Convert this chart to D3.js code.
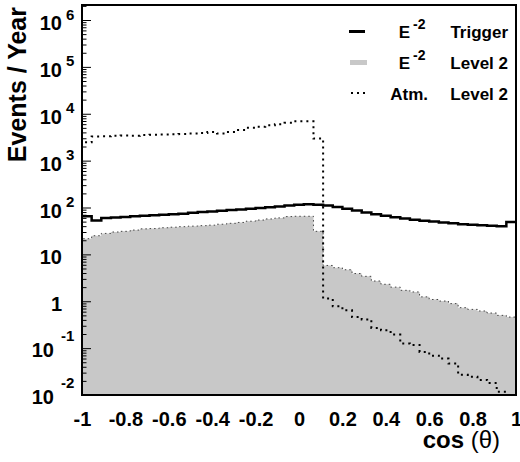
<!DOCTYPE html>
<html>
<head>
<meta charset="utf-8">
<script src="https://cdn.jsdelivr.net/npm/d3@7"></script>
<style>
  body { margin: 0; background: #fff; }
  svg { font-family: "Liberation Sans", Arial, Helvetica, sans-serif; font-weight: bold; }
</style>
</head>
<body>
<svg id="chart" width="520" height="462"></svg>
<script>
// 45 bins in cos(theta) from -1 to 1
var nBins = 45;

var triggerE2 = [65, 53, 60, 61, 63, 65, 67, 68, 70, 72,
                 74, 77, 80, 82, 85, 88, 91, 94, 97, 101,
                 105, 110, 114, 117, 115, 110, 102, 94, 86, 78,
                 72, 67, 62, 58, 55, 52, 50, 48, 46, 44,
                 43, 42, 41, 40, 49];

var level2E2 = [21.6, 25, 28, 30, 31, 33, 35, 35.5, 37, 38,
                39, 40, 41, 42, 44, 46, 48, 51, 54, 57,
                60, 64, 65, 65, 31, 5.8, 5.2, 4.7, 3.9, 3.4,
                2.7, 2.3, 2.0, 1.71, 1.58, 1.24, 1.09, 1.01, 0.89, 0.73,
                0.67, 0.62, 0.56, 0.50, 0.46];

var level2Atm = [2460, 3290, 3300, 3400, 3450, 3400, 3500, 3550, 3600, 3650,
                 3700, 3800, 3900, 4100, 3800, 4100, 4500, 5000, 5300, 5700,
                 6000, 6400, 6900, 6900, 2950, 1.14, 0.78, 0.64, 0.46, 0.41,
                 0.27, 0.24, 0.195, 0.126, 0.116, 0.083, 0.069, 0.060, 0.047, 0.027,
                 0.0245, 0.021, 0.018, 0.0117, 0.01];

var xTicks = [-1, -0.8, -0.6, -0.4, -0.2, 0, 0.2, 0.4, 0.6, 0.8, 1];
var yExps = [-2, -1, 0, 1, 2, 3, 4, 5, 6];

var svg = d3.select('#chart');

var padL = 82, padR = 516, padT = 5, padB = 395;

var x = d3.scaleLinear().domain([-1, 1]).range([padL, padR]);
var y = d3.scaleLog().domain([0.01, Math.pow(10, 6.32)]).range([padB, padT]).clamp(true);

var binW = 2 / nBins;
function steps(vals) {
    var pts = [];
    vals.forEach(function (v, i) {
        var a = -1 + i * binW, b = a + binW;
        pts.push([a, v]);
        pts.push([b, v]);
    });
    return pts;
}

var line = d3.line().x(d => x(d[0])).y(d => y(d[1]));

// grey filled Level 2 E^-2
var area = d3.area().x(d => x(d[0])).y0(padB).y1(d => y(d[1]));
svg.append('path')
   .attr('d', area(steps(level2E2)))
   .attr('fill', '#c8c8c8');

var greyPts = steps(level2E2);
greyPts.unshift([-1, 0.01]);
greyPts.push([1, 0.01]);
svg.append('path')
   .attr('d', line(greyPts))
   .attr('fill', 'none')
   .attr('stroke', '#444')
   .attr('stroke-width', 1)
   .attr('stroke-dasharray', '1.5,3');

// solid Trigger
svg.append('path')
   .attr('d', line(steps(triggerE2)))
   .attr('fill', 'none')
   .attr('stroke', '#000')
   .attr('stroke-width', 2.5);

// dotted atmospheric
var atmPts = steps(level2Atm);
atmPts.unshift([-1, 1]);
svg.append('path')
   .attr('d', line(atmPts))
   .attr('fill', 'none')
   .attr('stroke', '#000')
   .attr('stroke-width', 2)
   .attr('stroke-dasharray', '2,4');

// frame
svg.append('rect')
   .attr('x', padL).attr('y', padT)
   .attr('width', padR - padL).attr('height', padB - padT)
   .attr('fill', 'none')
   .attr('stroke', '#000')
   .attr('stroke-width', 2);

// y ticks (inside)
var majors = yExps.map(e => Math.pow(10, e));
var minors = [];
yExps.forEach(function (e) {
    for (var k = 2; k <= 9; k++) {
        var v = k * Math.pow(10, e);
        if (v < y.domain()[1]) minors.push(v);
    }
});

svg.append('g')
   .attr('transform', 'translate(' + padL + ',0)')
   .call(d3.axisRight(y).tickValues(majors).tickSize(9).tickFormat(''))
   .call(g => g.select('.domain').remove());
svg.append('g')
   .attr('transform', 'translate(' + padL + ',0)')
   .call(d3.axisRight(y).tickValues(minors).tickSize(4.5).tickFormat(''))
   .call(g => g.select('.domain').remove());
svg.selectAll('.tick line').attr('stroke-width', 1);

// y labels
var yl = svg.append('g').attr('font-size', 20);
yExps.forEach(function (e) {
    var ty = y(Math.pow(10, e));
    if (e === 0) {
        yl.append('text').attr('x', 62).attr('y', ty + 10).attr('text-anchor', 'end').text('1');
    } else if (e === 1) {
        yl.append('text').attr('x', 62).attr('y', ty + 10).attr('text-anchor', 'end').text('10');
    } else if (e > 1) {
        yl.append('text').attr('x', 62).attr('y', ty + 10).attr('text-anchor', 'end').text('10');
        yl.append('text').attr('x', 66).attr('y', ty - 0.5).attr('font-size', 15).text(e);
    } else {
        yl.append('text').attr('x', 54).attr('y', ty + 9).attr('text-anchor', 'end').text('10');
        yl.append('text').attr('x', 61).attr('y', ty - 7.5).attr('font-size', 15).text(e);
    }
});

// x axis labels
var xa = svg.append('g')
   .attr('transform', 'translate(0,' + padB + ')')
   .call(d3.axisBottom(x).tickValues(xTicks).tickSize(0).tickPadding(17)
           .tickFormat(d => d === 0 ? '0' : String(d)));
xa.select('.domain').remove();
xa.selectAll('text')
  .attr('font-size', 20)
  .attr('font-family', '"Liberation Sans", Arial, Helvetica, sans-serif')
  .attr('font-weight', 'bold')
  .attr('fill', '#000');

// axis titles
var xt = svg.append('text')
   .attr('x', 500).attr('y', 448)
   .attr('text-anchor', 'end')
   .attr('font-size', 24);
xt.append('tspan').text('cos ');
xt.append('tspan').attr('font-weight', 'normal').text('(θ)');

svg.append('text')
   .attr('transform', 'translate(26,7) rotate(-90)')
   .attr('text-anchor', 'end')
   .attr('font-size', 25)
   .text('Events / Year');

// legend
var lg = svg.append('g').attr('font-size', 17);
var rows = [31.5, 62.5, 93];
lg.append('line').attr('x1', 349).attr('x2', 365).attr('y1', rows[0]).attr('y2', rows[0])
  .attr('stroke', '#000').attr('stroke-width', 3);
lg.append('rect').attr('x', 350).attr('y', rows[1] - 2.5).attr('width', 17).attr('height', 5)
  .attr('fill', '#c8c8c8');
lg.append('line').attr('x1', 351).attr('x2', 367).attr('y1', rows[2]).attr('y2', rows[2])
  .attr('stroke', '#000').attr('stroke-width', 2).attr('stroke-dasharray', '2,4');

[0, 1].forEach(function (r) {
    lg.append('text').attr('x', 410).attr('y', rows[r] + 6.5).attr('text-anchor', 'end').text('E');
    lg.append('text').attr('x', 413).attr('y', rows[r] - 2.5).attr('font-size', 14).text('-2');
});
lg.append('text').attr('x', 428).attr('y', rows[2] + 6.5).attr('text-anchor', 'end').text('Atm.');
lg.append('text').attr('x', 508).attr('y', rows[0] + 6.5).attr('text-anchor', 'end').text('Trigger');
lg.append('text').attr('x', 508).attr('y', rows[1] + 6.5).attr('text-anchor', 'end').text('Level 2');
lg.append('text').attr('x', 508).attr('y', rows[2] + 6.5).attr('text-anchor', 'end').text('Level 2');
</script>
</body>
</html>
